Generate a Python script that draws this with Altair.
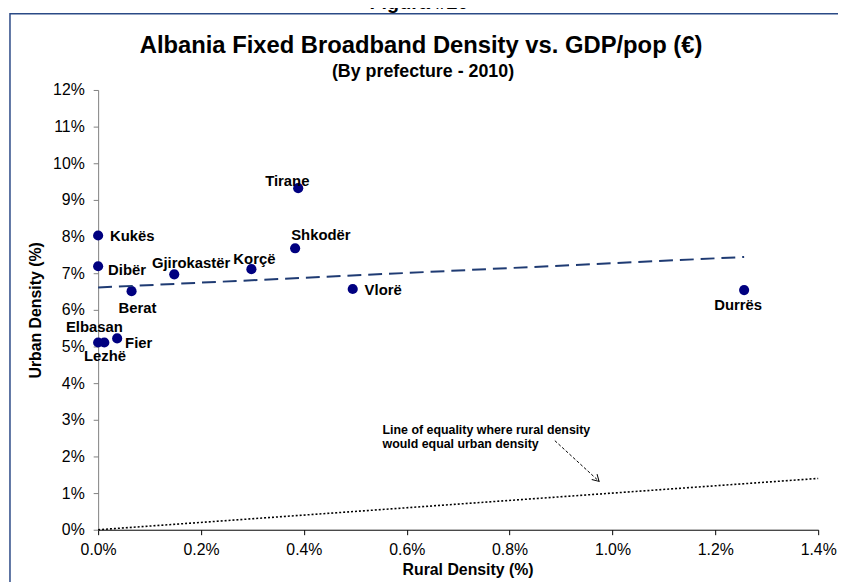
import altair as alt
import pandas as pd

# ---------------- data ----------------
prefectures = ["Tirane", "Shkodër", "Kukës", "Dibër", "Gjirokastër", "Korçë",
               "Berat", "Vlorë", "Durrës", "Lezhë", "Elbasan", "Fier"]
rural_density = [0.389, 0.383, 0.0, 0.0, 0.148, 0.298, 0.065, 0.495, 1.256, 0.0, 0.012, 0.037]  # %
urban_density = [9.32, 7.68, 8.03, 7.19, 6.97, 7.11, 6.51, 6.57, 6.54, 5.11, 5.11, 5.22]       # %

x_ticks = [0.0, 0.2, 0.4, 0.6, 0.8, 1.0, 1.2, 1.4]
y_ticks = [0, 1, 2, 3, 4, 5, 6, 7, 8, 9, 10, 11, 12]

equality_x = [0.0, 1.4]
equality_y = [0.0, 1.4]

note_lines = ["Line of equality  where  rural  density", "would equal  urban  density"]
note_x = [0.553, 0.553]
note_y = [2.73, 2.35]

arrow_x = [0.888, 0.974]
arrow_y = [2.43, 1.32]

title_text = "Albania Fixed Broadband Density vs. GDP/pop (€)"
subtitle_text = "(By prefecture - 2010)"
figure_text = "Figura #20"

# label placement (align, dx, dy) -- styling only
label_style = {
    "Tirane": ("center", -11, -7),
    "Shkodër": ("center", 26, -13),
    "Kukës": ("left", 12, 1),
    "Dibër": ("left", 10, 4),
    "Gjirokastër": ("center", 17, -11),
    "Korçë": ("center", 3, -10),
    "Berat": ("center", 6, 17),
    "Vlorë": ("left", 12, 1),
    "Durrës": ("center", -6, 15),
    "Lezhë": ("center", 7, 14),
    "Elbasan": ("center", -10, -16),
    "Fier": ("left", 8, 5),
}

FONT = "Liberation Sans"
W, H = 727, 444

df = pd.DataFrame({"name": prefectures, "rural": rural_density, "urban": urban_density})
eq_df = pd.DataFrame({"rural": equality_x, "urban": equality_y})
note_df = pd.DataFrame({"rural": note_x, "urban": note_y, "text": note_lines})
arrow_df = pd.DataFrame({"rural": arrow_x, "urban": arrow_y})

x_scale = alt.Scale(domain=[x_ticks[0], x_ticks[-1]], nice=False, zero=False)
y_scale = alt.Scale(domain=[y_ticks[0], y_ticks[-1]], nice=False, zero=False)

x_axis = alt.Axis(values=x_ticks, labelExpr="format(datum.value, '.1f') + '%'",
                  grid=False, domainColor="#000000", tickColor="#000000", tickSize=5,
                  labelFlush=False, labelOverlap=False, labelBound=False,
                  labelFont=FONT, labelFontSize=16, labelColor="#000000", labelPadding=7,
                  title="Rural Density (%)", titleFont=FONT, titleFontSize=16,
                  titleFontWeight="bold", titleColor="#000000",
                  titleX=373, titleY=45, titleAlign="center", titleBaseline="alphabetic")
y_axis = alt.Axis(values=y_ticks, labelExpr="datum.value + '%'",
                  grid=False, domainColor="#808080", tickColor="#808080", tickSize=5,
                  labelFlush=False, labelOverlap=False, labelBound=False,
                  labelFont=FONT, labelFontSize=16, labelColor="#000000", labelPadding=9,
                  title="Urban Density (%)", titleFont=FONT, titleFontSize=16,
                  titleFontWeight="bold", titleColor="#000000", titleAngle=270,
                  titleX=-58, titleY=222, titleAlign="center", titleBaseline="alphabetic")

X = alt.X("rural:Q", scale=x_scale, axis=x_axis)
Y = alt.Y("urban:Q", scale=y_scale, axis=y_axis)

base = alt.Chart(df)

equality = alt.Chart(eq_df).mark_line(color="#000000", strokeDash=[2, 2], strokeWidth=1.6).encode(
    x=X, y=Y)

trend = base.transform_regression("rural", "urban").mark_line(
    color="#1F3B73", strokeDash=[14, 7], strokeWidth=2).encode(x=X, y=Y)

points = base.mark_circle(color="#000080", opacity=1, size=105).encode(x=X, y=Y)

labels = []
for name in prefectures:
    align, dx, dy = label_style[name]
    labels.append(
        base.transform_filter(alt.datum.name == name).mark_text(
            align=align, baseline="middle", dx=dx, dy=dy, font=FONT, fontSize=15,
            fontWeight="bold", color="#000000").encode(x=X, y=Y, text="name:N"))

note = alt.Chart(note_df).mark_text(align="left", baseline="middle", font=FONT, fontSize=12.5,
                                     fontWeight="bold", color="#000000").encode(
    x=X, y=Y, text="text:N")

arrow_line = alt.Chart(arrow_df).mark_line(color="#000000", strokeDash=[3, 2], strokeWidth=1).encode(
    x=X, y=Y)

arrow_head = alt.Chart(arrow_df.tail(1)).mark_point(
    shape="M-1.2,-0.7L0,0L-1.2,0.7", filled=False, color="#000000", strokeWidth=1,
    size=120, angle=44, opacity=1).encode(x=X, y=Y)

title_df = pd.DataFrame({"t": [title_text]})
title = alt.Chart(title_df).mark_text(font=FONT, fontSize=24, fontWeight="bold", align="center",
                                      baseline="alphabetic", color="#000000").encode(
    x=alt.value(326), y=alt.value(-37), text="t:N")
sub_df = pd.DataFrame({"t": [subtitle_text]})
subtitle = alt.Chart(sub_df).mark_text(font=FONT, fontSize=18, fontWeight="bold", align="center",
                                       baseline="alphabetic", color="#000000").encode(
    x=alt.value(328), y=alt.value(-13), text="t:N")
fig_df = pd.DataFrame({"t": [figure_text]})
figure = alt.Chart(fig_df).mark_text(font=FONT, fontSize=20, fontWeight="bold", align="center",
                                     baseline="alphabetic", color="#000000").encode(
    x=alt.value(324), y=alt.value(-82), text="t:N")

frame = alt.Chart(fig_df).mark_rect(fill=None, stroke="#2B4A86", strokeWidth=1.5).encode(
    x=alt.value(-89), x2=alt.value(W + 120), y=alt.value(-77), y2=alt.value(H + 120))

chart = alt.layer(points, frame, equality, trend, arrow_line, arrow_head, *labels, note,
                  title, subtitle, figure).properties(
    width=W, height=H,
    autosize=alt.AutoSizeParams(type="none"),
    padding={"left": 91, "top": 80, "right": 20, "bottom": 50},
    background="#ffffff",
).configure_view(stroke=None)

chart.save("out.html", embed_options={"renderer": "svg", "actions": False})
